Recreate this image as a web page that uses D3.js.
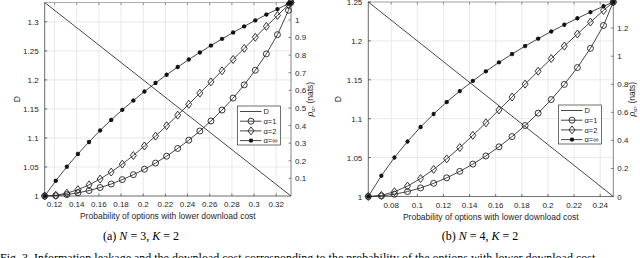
<!DOCTYPE html>
<html>
<head>
<meta charset="utf-8">
<script src="https://cdn.jsdelivr.net/npm/d3@7"></script>
<style>
  body { margin: 0; background: #fff; }
  svg { display: block; }
  .tick-text { font-family: "Liberation Sans", Arial, sans-serif; font-size: 8px; fill: #262626; }
  .leg-text { font-family: "Liberation Sans", Arial, sans-serif; font-size: 7.5px; fill: #262626; }
  .lab { font-family: "Liberation Sans", Arial, sans-serif; font-size: 8.5px; fill: #262626; }
  .cap { font-family: "Liberation Serif", "Times New Roman", serif; font-size: 12px; fill: #000; }
</style>
</head>
<body>
<div id="chart"></div>
<script>
// x points (probability of options with lower download cost)
let xA = [0.1111, 0.1211, 0.1311, 0.1411, 0.1511, 0.1611, 0.1711, 0.1811, 0.1911, 0.2011, 0.2111, 0.2211,
  0.2311, 0.2411, 0.2511, 0.2611, 0.2711, 0.2811, 0.2911, 0.3011, 0.3111, 0.3211, 0.3311, 0.3333]
let xB = [0.0625, 0.0725, 0.0825, 0.0925, 0.1025, 0.1125, 0.1225, 0.1325, 0.1425, 0.1525, 0.1625, 0.1725,
  0.1825, 0.1925, 0.2025, 0.2125, 0.2225, 0.2325, 0.2425, 0.25]

// download cost D (straight line)
let dxA = [0.1111, 0.3333], dA = [1.3333, 1]
let dxB = [0.0625, 0.25], dB = [1.25, 1]

// leakage rho (nats), N = 3
let r1A = [0, 0.002, 0.008, 0.018, 0.031, 0.048, 0.068, 0.093, 0.121, 0.152, 0.187, 0.226,
  0.27, 0.317, 0.369, 0.426, 0.488, 0.556, 0.631, 0.714, 0.807, 0.916, 1.054, 1.099]
let r2A = [0, 0.004, 0.016, 0.036, 0.063, 0.096, 0.136, 0.181, 0.23, 0.284, 0.34, 0.399,
  0.459, 0.521, 0.584, 0.648, 0.711, 0.775, 0.838, 0.901, 0.963, 1.025, 1.085, 1.099]
let rInfA = [0, 0.086, 0.166, 0.239, 0.307, 0.372, 0.432, 0.489, 0.542, 0.593, 0.642, 0.688,
  0.732, 0.775, 0.815, 0.854, 0.892, 0.928, 0.963, 0.997, 1.03, 1.061, 1.092, 1.099]

// leakage rho (nats), N = 4
let r1B = [0, 0.004, 0.016, 0.035, 0.061, 0.094, 0.133, 0.179, 0.231, 0.289, 0.354, 0.427,
  0.506, 0.594, 0.691, 0.799, 0.919, 1.056, 1.219, 1.386]
let r2B = [0, 0.008, 0.034, 0.074, 0.128, 0.193, 0.268, 0.349, 0.436, 0.525, 0.617, 0.709,
  0.801, 0.893, 0.983, 1.072, 1.158, 1.243, 1.326, 1.386]
let rInfB = [0, 0.148, 0.278, 0.392, 0.495, 0.588, 0.673, 0.751, 0.824, 0.892, 0.956, 1.015,
  1.072, 1.125, 1.176, 1.224, 1.27, 1.314, 1.356, 1.386]

// ticks
let xTicksA = [0.12, 0.14, 0.16, 0.18, 0.2, 0.22, 0.24, 0.26, 0.28, 0.3, 0.32]
let dTicksA = [1, 1.05, 1.1, 1.15, 1.2, 1.25, 1.3]
let rTicksA = [0.1, 0.2, 0.3, 0.4, 0.5, 0.6, 0.7, 0.8, 0.9, 1]
let xTicksB = [0.08, 0.1, 0.12, 0.14, 0.16, 0.18, 0.2, 0.22, 0.24]
let dTicksB = [1, 1.05, 1.1, 1.15, 1.2, 1.25]
let rTicksB = [0, 0.2, 0.4, 0.6, 0.8, 1, 1.2]

let legendNames = ['D', 'α=1', 'α=2', 'α=∞']

let W = 640, H = 258
let svg = d3.select('#chart').append('svg')
  .attr('width', W)
  .attr('height', H)

let fmt = function (v) { return String(+v.toFixed(2)) }

function marker(g, type, cx, cy) {
  if (type === 'circle') {
    g.append('circle').attr('cx', cx).attr('cy', cy).attr('r', 3)
      .attr('fill', 'none').attr('stroke', '#222').attr('stroke-width', 0.9)
  } else if (type === 'diamond') {
    g.append('path')
      .attr('d', 'M' + cx + ',' + (cy - 4) + 'L' + (cx + 3) + ',' + cy + 'L' + cx + ',' + (cy + 4) + 'L' + (cx - 3) + ',' + cy + 'Z')
      .attr('fill', 'none').attr('stroke', '#222').attr('stroke-width', 0.9)
  } else if (type === 'star') {
    let s = 2.2, p = ''
    for (let a = 0; a < 4; a++) {
      let t = a * Math.PI / 4
      p += 'M' + (cx - s * Math.cos(t)) + ',' + (cy - s * Math.sin(t)) + 'L' + (cx + s * Math.cos(t)) + ',' + (cy + s * Math.sin(t))
    }
    g.append('path').attr('d', p).attr('stroke', '#111').attr('stroke-width', 1.2)
  }
}

function panel(cfg) {
  let x = d3.scaleLinear().domain(cfg.xDom).range([cfg.left, cfg.right])
  let yD = d3.scaleLinear().domain(cfg.dDom).range([cfg.bottom, cfg.top])
  let yR = d3.scaleLinear().domain(cfg.rDom).range([cfg.bottom, cfg.top])
  let g = svg.append('g')

  // grid
  g.append('g').selectAll('line').data(cfg.xTicks).enter().append('line')
    .attr('x1', d => x(d)).attr('x2', d => x(d))
    .attr('y1', cfg.top).attr('y2', cfg.bottom)
    .attr('stroke', '#e3e3e3').attr('stroke-width', 0.8)
  g.append('g').selectAll('line').data(cfg.dTicks).enter().append('line')
    .attr('x1', cfg.left).attr('x2', cfg.right)
    .attr('y1', d => yD(d)).attr('y2', d => yD(d))
    .attr('stroke', '#e3e3e3').attr('stroke-width', 0.8)

  // box
  g.append('line').attr('x1', cfg.left).attr('x2', cfg.right).attr('y1', cfg.top).attr('y2', cfg.top)
    .attr('stroke', '#9a9a9a').attr('stroke-width', 0.8)
  g.append('line').attr('x1', cfg.left).attr('x2', cfg.right).attr('y1', cfg.bottom).attr('y2', cfg.bottom)
    .attr('stroke', '#555').attr('stroke-width', 0.8)
  g.append('line').attr('x1', cfg.left).attr('x2', cfg.left).attr('y1', cfg.top).attr('y2', cfg.bottom)
    .attr('stroke', '#444').attr('stroke-width', 0.8)
  g.append('line').attr('x1', cfg.right).attr('x2', cfg.right).attr('y1', cfg.top).attr('y2', cfg.bottom)
    .attr('stroke', '#666').attr('stroke-width', 0.8)

  // ticks
  let tk = 2.5
  g.append('g').selectAll('line').data(cfg.xTicks).enter().append('line')
    .attr('x1', d => x(d)).attr('x2', d => x(d))
    .attr('y1', cfg.bottom).attr('y2', cfg.bottom - tk)
    .attr('stroke', '#555').attr('stroke-width', 0.8)
  g.append('g').selectAll('line').data(cfg.xTicks).enter().append('line')
    .attr('x1', d => x(d)).attr('x2', d => x(d))
    .attr('y1', cfg.top).attr('y2', cfg.top + tk)
    .attr('stroke', '#777').attr('stroke-width', 0.8)
  g.append('g').selectAll('line').data(cfg.dTicks).enter().append('line')
    .attr('x1', cfg.left).attr('x2', cfg.left + tk)
    .attr('y1', d => yD(d)).attr('y2', d => yD(d))
    .attr('stroke', '#444').attr('stroke-width', 0.8)
  g.append('g').selectAll('line').data(cfg.rTicks).enter().append('line')
    .attr('x1', cfg.right).attr('x2', cfg.right - tk)
    .attr('y1', d => yR(d)).attr('y2', d => yR(d))
    .attr('stroke', '#666').attr('stroke-width', 0.8)

  // tick labels
  g.append('g').selectAll('text').data(cfg.xTicks).enter().append('text')
    .attr('class', 'tick-text')
    .attr('x', d => x(d)).attr('y', cfg.bottom + 11)
    .attr('text-anchor', 'middle').text(fmt)
  g.append('g').selectAll('text').data(cfg.dTicks).enter().append('text')
    .attr('class', 'tick-text')
    .attr('x', cfg.left - 6).attr('y', d => yD(d) + 3)
    .attr('text-anchor', 'end').text(fmt)
  g.append('g').selectAll('text').data(cfg.rTicks).enter().append('text')
    .attr('class', 'tick-text')
    .attr('x', cfg.right + 4).attr('y', d => yR(d) + 3)
    .attr('text-anchor', 'start').text(fmt)

  // axis labels
  let midY = (cfg.top + cfg.bottom) / 2
  g.append('text').attr('class', 'lab')
    .attr('transform', 'translate(' + (cfg.left - cfg.dLabOff) + ',' + midY + ') rotate(-90)')
    .attr('text-anchor', 'middle').text('D')
  let rl = g.append('text').attr('class', 'lab')
    .attr('transform', 'translate(' + (cfg.right + 22) + ',' + midY + ') rotate(-90)')
    .attr('text-anchor', 'middle')
  rl.append('tspan').attr('font-style', 'italic').attr('font-family', 'Liberation Serif, serif').attr('font-size', '10px').text('ρ')
  rl.append('tspan').attr('font-size', '6px').attr('dy', 2).text('α')
  rl.append('tspan').attr('dy', -2).text(', (nats)')
  g.append('text').attr('class', 'lab')
    .attr('x', (cfg.left + cfg.right) / 2).attr('y', cfg.bottom + 23)
    .attr('text-anchor', 'middle').text('Probability of options with lower download cost')

  // caption
  let cap = g.append('text').attr('class', 'cap')
    .attr('x', cfg.capX).attr('y', 240).attr('text-anchor', 'middle')
  cap.append('tspan').text(cfg.capTag + ' ')
  cap.append('tspan').attr('font-style', 'italic').text('N')
  cap.append('tspan').text(' = ' + cfg.n + ', ')
  cap.append('tspan').attr('font-style', 'italic').text('K')
  cap.append('tspan').text(' = 2')

  // D line
  let line = d3.line()
  g.append('path')
    .attr('d', line(cfg.dx.map((v, i) => [x(v), yD(cfg.d[i])])))
    .attr('fill', 'none').attr('stroke', '#333').attr('stroke-width', 0.9)

  // rho curves
  let series = [
    {vals: cfg.r1, m: 'circle'},
    {vals: cfg.r2, m: 'diamond'},
    {vals: cfg.rInf, m: 'star'}
  ]
  series.forEach(function (s) {
    g.append('path')
      .attr('d', line(cfg.xs.map((v, i) => [x(v), yR(s.vals[i])])))
      .attr('fill', 'none').attr('stroke', '#333').attr('stroke-width', 0.9)
    let mg = g.append('g')
    cfg.xs.forEach(function (v, i) { marker(mg, s.m, x(v), yR(s.vals[i])) })
  })

  // legend
  let lg = g.append('g')
  lg.append('rect').attr('x', cfg.legX).attr('y', cfg.legY)
    .attr('width', 43).attr('height', 39)
    .attr('fill', '#fff').attr('stroke', '#333').attr('stroke-width', 0.7)
  let mtypes = [null, 'circle', 'diamond', 'star']
  legendNames.forEach(function (name, i) {
    let yy = cfg.legY + 5.5 + i * 9.7
    lg.append('line').attr('x1', cfg.legX + 2.5).attr('x2', cfg.legX + 24)
      .attr('y1', yy).attr('y2', yy).attr('stroke', '#333').attr('stroke-width', 0.9)
    if (mtypes[i]) marker(lg, mtypes[i], cfg.legX + 13.5, yy)
    lg.append('text').attr('class', 'leg-text')
      .attr('x', cfg.legX + 26).attr('y', yy + 2.7).text(name)
  })
}

panel({
  left: 44.7, right: 291, top: 2.5, bottom: 196,
  xDom: [1 / 9, 1 / 3], dDom: [1, 4 / 3], rDom: [0, 1.0986],
  xTicks: xTicksA, dTicks: dTicksA, rTicks: rTicksA,
  xs: xA, r1: r1A, r2: r2A, rInf: rInfA, dx: dxA, d: dA,
  capTag: '(a)', n: 3, capX: 141, dLabOff: 25,
  legX: 237.5, legY: 106
})

panel({
  left: 368.3, right: 613.3, top: 2, bottom: 196.5,
  xDom: [0.0625, 0.25], dDom: [1, 1.25], rDom: [0, 1.3863],
  xTicks: xTicksB, dTicks: dTicksB, rTicks: rTicksB,
  xs: xB, r1: r1B, r2: r2B, rInf: rInfB, dx: dxB, d: dB,
  capTag: '(b)', n: 4, capX: 480, dLabOff: 27,
  legX: 558.5, legY: 105
})

// figure caption, cut by the bottom edge
svg.append('text').attr('class', 'cap')
  .attr('x', 0).attr('y', 261.5)
  .text('Fig. 3.  Information leakage and the download cost corresponding to the probability of the options with lower download cost')
</script>
</body>
</html>
